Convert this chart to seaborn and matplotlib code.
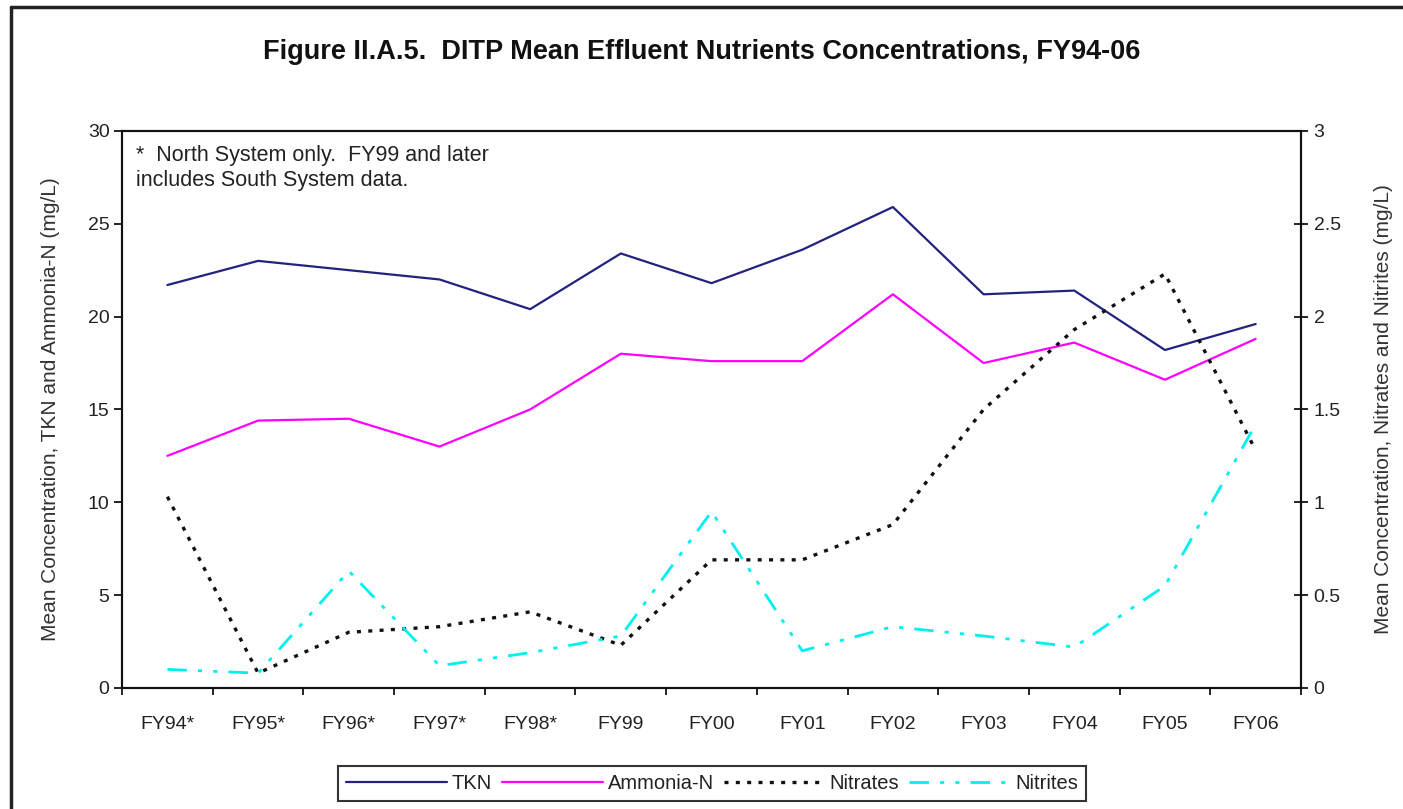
import matplotlib
matplotlib.use("Agg")
import matplotlib.pyplot as plt
from matplotlib.lines import Line2D
from matplotlib.ticker import FixedLocator, NullFormatter
import seaborn as sns
import pandas as pd

# Fiscal years (asterisk = North System only)
years = ["FY94*", "FY95*", "FY96*", "FY97*", "FY98*", "FY99", "FY00",
         "FY01", "FY02", "FY03", "FY04", "FY05", "FY06"]

# Left axis series (mg/L)
tkn = [21.7, 23.0, 22.5, 22.0, 20.4, 23.4, 21.8, 23.6, 25.9, 21.2, 21.4, 18.2, 19.6]
ammonia = [12.5, 14.4, 14.5, 13.0, 15.0, 18.0, 17.6, 17.6, 21.2, 17.5, 18.6, 16.6, 18.8]

# Right axis series (mg/L)
nitrates = [1.03, 0.08, 0.30, 0.33, 0.41, 0.23, 0.69, 0.69, 0.88, 1.50, 1.93, 2.23, 1.28]
nitrites = [0.10, 0.08, 0.63, 0.12, 0.19, 0.28, 0.95, 0.20, 0.33, 0.28, 0.22, 0.55, 1.42]

left_ticks = [0, 5, 10, 15, 20, 25, 30]
right_ticks = [0, 0.5, 1, 1.5, 2, 2.5, 3]
right_labels = ["0", "0.5", "1", "1.5", "2", "2.5", "3"]

df = pd.DataFrame({"year": years, "TKN": tkn, "Ammonia-N": ammonia,
                   "Nitrates": nitrates, "Nitrites": nitrites})

sns.set_theme(style="white")
plt.rcParams["font.family"] = ["Liberation Sans", "DejaVu Sans"]

fig = plt.figure(figsize=(14.03, 8.09), dpi=100)
ax = fig.add_axes([0.087, 0.1496, 0.8403, 0.6886])
ax2 = ax.twinx()

c_tkn = "#22227f"
c_amm = "#ff00ff"
c_nitrate = "#111111"
c_nitrite = "#00f0f0"
ls_nitrate = (0, (1.2, 2.2))
ls_nitrite = (0, (7, 4, 1.5, 4, 1.5, 4))

sns.lineplot(data=df, x="year", y="TKN", ax=ax, color=c_tkn, lw=1.6, sort=False)
sns.lineplot(data=df, x="year", y="Ammonia-N", ax=ax, color=c_amm, lw=1.6, sort=False)
sns.lineplot(data=df, x="year", y="Nitrates", ax=ax2, color=c_nitrate, lw=2.4,
             sort=False, linestyle=ls_nitrate)
sns.lineplot(data=df, x="year", y="Nitrites", ax=ax2, color=c_nitrite, lw=2.0,
             sort=False, linestyle=ls_nitrite)

n = len(years)
ax.set_xlim(-0.5, n - 0.5)
ax.set_ylim(0, 30)
ax2.set_ylim(0, 3)

ax.set_yticks(left_ticks)
ax.set_yticklabels([str(t) for t in left_ticks])
ax2.set_yticks(right_ticks)
ax2.set_yticklabels(right_labels)

ax.set_xticks(range(n))
ax.set_xticklabels(years)
ax.xaxis.set_minor_locator(FixedLocator([i - 0.5 for i in range(n + 1)]))
ax.xaxis.set_minor_formatter(NullFormatter())
ax.tick_params(axis="x", which="major", length=0, pad=20, labelsize=14)
ax.tick_params(axis="x", which="minor", length=5, width=1.2, color="black",
               direction="out", bottom=True)
ax.tick_params(axis="y", which="major", length=6, width=1.2, color="black",
               direction="out", left=True, labelsize=14, pad=3)
ax2.tick_params(axis="y", which="major", length=10, width=1.2, color="black",
                direction="inout", right=True, labelsize=14, pad=4)
for lab in ax.get_yticklabels() + ax2.get_yticklabels() + ax.get_xticklabels():
    lab.set_color("#222222")

for a in (ax, ax2):
    for s in a.spines.values():
        s.set_color("#111111")
        s.set_linewidth(1.5)
ax.grid(False)
ax2.grid(False)

ax.set_xlabel("")
ax.set_ylabel("Mean Concentration, TKN and Ammonia-N (mg/L)", fontsize=15,
              color="#333333", labelpad=20)
ax2.set_ylabel("Mean Concentration, Nitrates and Nitrites (mg/L)", fontsize=15,
               color="#333333", rotation=90, labelpad=24)

ax.text(0.012, 0.975, "*  North System only.  FY99 and later\nincludes South System data.",
        transform=ax.transAxes, ha="left", va="top", fontsize=15.5, color="#222222",
        linespacing=1.25)

fig.text(0.5, 0.936, "Figure II.A.5.  DITP Mean Effluent Nutrients Concentrations, FY94-06",
         ha="center", va="center", fontsize=19.5, fontweight="bold", color="#111111")

handles = [
    Line2D([], [], color=c_tkn, lw=1.6),
    Line2D([], [], color=c_amm, lw=1.6),
    Line2D([], [], color=c_nitrate, lw=2.4, linestyle=ls_nitrate),
    Line2D([], [], color=c_nitrite, lw=2.0, linestyle=ls_nitrite),
]
leg = fig.legend(handles, ["TKN", "Ammonia-N", "Nitrates", "Nitrites"],
                 loc="center", bbox_to_anchor=(0.5075, 0.031), ncol=4,
                 frameon=True, fancybox=False, fontsize=14.5, handlelength=5.0,
                 handletextpad=0.25, columnspacing=0.5, borderpad=0.4)
leg.get_frame().set_edgecolor("black")
leg.get_frame().set_linewidth(1.5)
for t in leg.get_texts():
    t.set_color("#222222")

# Outer chart border (left and top edges)
fig.add_artist(Line2D([11 / 1403, 11 / 1403], [0, 1 - 7 / 809], transform=fig.transFigure,
                      color="#222222", lw=2.5))
fig.add_artist(Line2D([11 / 1403, 1], [1 - 7 / 809, 1 - 7 / 809], transform=fig.transFigure,
                      color="#222222", lw=2.5))

fig.savefig("out.png", dpi=100, facecolor="white")
